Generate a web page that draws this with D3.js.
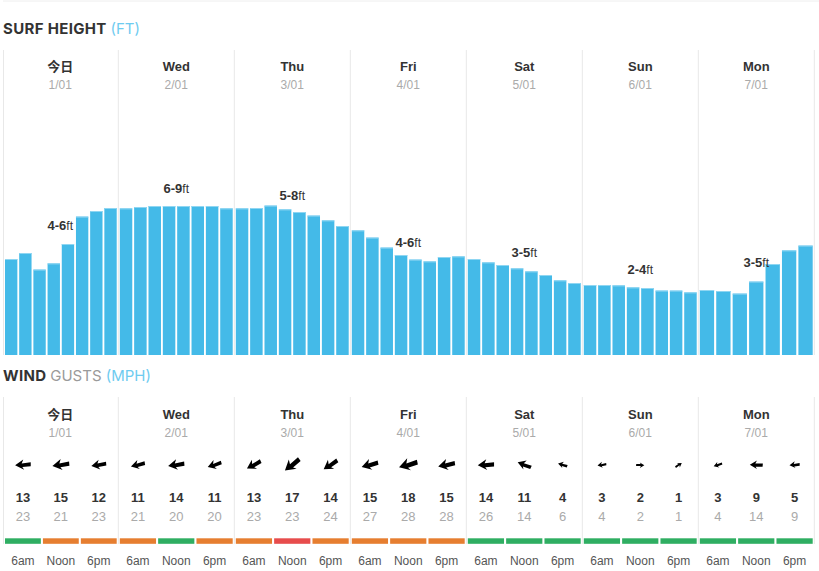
<!DOCTYPE html>
<html>
<head>
<meta charset="utf-8">
<script src="https://cdn.jsdelivr.net/npm/d3@7/dist/d3.min.js"></script>
<style>
html,body{margin:0;padding:0;background:#fff}
svg{display:block}
text{font-family:"Liberation Sans",Arial,sans-serif}
</style>
</head>
<body>
<svg id="c" width="819" height="571"></svg>
<script>
const days = ["今日","Wed","Thu","Fri","Sat","Sun","Mon"];
const dates = ["1/01","2/01","3/01","4/01","5/01","6/01","7/01"];
const surfDay1 = [4.8,5.1,4.27,4.58,5.55,6.92,7.2,7.35];
const surfDay2 = [7.33,7.4,7.45,7.45,7.45,7.45,7.45,7.33];
const surfDay3 = [7.33,7.35,7.47,7.28,7.15,6.97,6.73,6.45];
const surfDay4 = [6.23,5.87,5.37,5.0,4.77,4.68,4.9,4.93];
const surfDay5 = [4.8,4.63,4.5,4.33,4.18,4.0,3.73,3.6];
const surfDay6 = [3.5,3.5,3.48,3.38,3.35,3.22,3.22,3.13];
const surfDay7 = [3.25,3.2,3.07,3.67,4.55,5.23,5.47];
const surfRanges = ["4-6","6-9","5-8","4-6","3-5","2-4","3-5"];
const surfLabelLevels = [6.25,8.1,7.75,5.4,4.9,4.05,4.4];
const windSpeed = [13,15,12,11,14,11,13,17,14,15,18,15,14,11,4,3,2,1,3,9,5];
const windGust = [23,21,23,21,20,20,23,23,24,27,28,28,26,14,6,4,2,1,4,14,9];
const windFrom = [90,85,85,80,85,75,65,55,60,78,78,82,90,115,110,85,275,240,75,95,88];
const windRating = ["g","o","o","o","g","o","o","r","o","o","o","o","g","g","g","g","g","g","g","g","g"];
const times = ["6am","Noon","6pm"];
const ratingColor = {g:"#2fae62",o:"#e67e30",r:"#e74c4c"};

const svg = d3.select("#c");
const surfSeries = [surfDay1,surfDay2,surfDay3,surfDay4,surfDay5,surfDay6,surfDay7];

const dayX = d3.scaleBand().domain(d3.range(days.length)).range([2.3,814.3]);
const dayLeft = i => Math.max(dayX(i),3.5);
const innerBand = (i,n,pad) => d3.scaleBand().domain(d3.range(n))
  .range([dayLeft(i)+1.5,dayX(i)+dayX.bandwidth()-1.6]).paddingInner(pad);
const y = d3.scaleLinear().domain([0,15]).range([355,55]);
const arrowLen = d3.scaleLinear().domain([1,18]).range([7.5,19]);

// top rule
svg.append("line").attr("x1",3).attr("x2",819).attr("y1",1).attr("y2",1).attr("stroke","#eeeeee").attr("stroke-width",1);

function title(yPos,parts){
  const t = svg.append("text").attr("x",3).attr("y",yPos).attr("font-size",15);
  parts.forEach(p=>t.append("tspan").text(p[0]).attr("fill",p[1]).attr("font-weight",p[2])
    .style("letter-spacing",p[2]===700?"0.33px":null)
    .style("font-family","Inter,'Liberation Sans',sans-serif"));
}
title(34,[["SURF HEIGHT ","#333333",700],["(FT)","#6ecbf0",400]]);
title(381,[["WIND ","#333333",700],["GUSTS ","#9a9a9a",400],["(MPH)","#6ecbf0",400]]);

function header(y0,y1,nameY,dateY){
  const g = svg.append("g");
  const bounds = d3.range(days.length).map(dayLeft).concat([dayX(days.length-1)+dayX.bandwidth()]);
  g.selectAll("line").data(bounds).join("line")
    .attr("x1",d=>d).attr("x2",d=>d).attr("y1",y0).attr("y2",y1)
    .attr("stroke","#e8e8e8").attr("stroke-width",1);
  g.selectAll("text.n").data(days).join("text").attr("class","n")
    .attr("x",(d,i)=>dayX(i)+dayX.bandwidth()/2).attr("y",nameY)
    .attr("text-anchor","middle").attr("font-size",13).attr("font-weight",700).attr("fill","#333")
    .style("font-family",d=>/[^\x00-\x7f]/.test(d)?"'Noto Sans CJK SC'":null)
    .text(d=>d);
  g.selectAll("text.d").data(dates).join("text").attr("class","d")
    .attr("x",(d,i)=>dayX(i)+dayX.bandwidth()/2).attr("y",dateY)
    .attr("text-anchor","middle").attr("font-size",12).attr("fill","#aaaaaa")
    .text(d=>d);
}
header(50,355,71,89);
header(397,544,419,437);

// surf bars
surfSeries.forEach((vals,i)=>{
  const b = innerBand(i,vals.length,0.13);
  svg.append("g").selectAll("rect").data(vals).join("rect")
    .attr("x",(d,j)=>b(j)).attr("width",b.bandwidth())
    .attr("y",d=>y(d)).attr("height",d=>y(0)-y(d))
    .attr("fill","#44bae8");
  svg.append("g").selectAll("line").data(vals).join("line")
    .attr("x1",(d,j)=>b(j)).attr("x2",(d,j)=>b(j)+b.bandwidth())
    .attr("y1",d=>y(d)+0.5).attr("y2",d=>y(d)+0.5)
    .attr("stroke","#8fd6f2").attr("stroke-width",1);
});
const lab = svg.append("g").selectAll("text").data(surfRanges).join("text")
  .attr("x",(d,i)=>dayX(i)+dayX.bandwidth()/2).attr("y",(d,i)=>y(surfLabelLevels[i]))
  .attr("text-anchor","middle").attr("font-size",13).attr("fill","#333");
lab.append("tspan").attr("font-weight",700).text(d=>d);
lab.append("tspan").attr("font-size",12).text("ft");

// wind
const arrowShape = [[-0.5,0.02],[0.02,-0.42],[-0.08,-0.12],[0.5,-0.2],[0.5,0.1],[-0.04,0.16],[0.08,0.36]];
const arrowPath = d3.line().curve(d3.curveLinearClosed);
const slots = [];
days.forEach((d,i)=>{
  const b = innerBand(i,times.length,0.055);
  times.forEach((t,j)=>slots.push({x:b(j),w:b.bandwidth(),t}));
});
const wg = svg.append("g").selectAll("g").data(slots).join("g");
wg.append("path")
  .attr("transform",(d,k)=>`translate(${d.x+d.w/2},465) rotate(${windFrom[k]-90})`)
  .attr("d",(d,k)=>{const L=arrowLen(windSpeed[k]);return arrowPath(arrowShape.map(p=>[p[0]*L,p[1]*L*0.85]));})
  .attr("fill","#000");
wg.append("text").attr("x",d=>d.x+d.w/2).attr("y",502).attr("text-anchor","middle")
  .attr("font-size",13).attr("font-weight",700).attr("fill","#333").text((d,k)=>windSpeed[k]);
wg.append("text").attr("x",d=>d.x+d.w/2).attr("y",521).attr("text-anchor","middle")
  .attr("font-size",13).attr("fill","#aaaaaa").text((d,k)=>windGust[k]);
wg.append("rect").attr("x",d=>d.x).attr("width",d=>d.w).attr("y",538.3).attr("height",5.5)
  .attr("fill",(d,k)=>ratingColor[windRating[k]]);
wg.append("text").attr("x",d=>d.x+d.w/2).attr("y",565).attr("text-anchor","middle")
  .attr("font-size",12).attr("fill","#555").text(d=>d.t);
</script>
</body>
</html>
